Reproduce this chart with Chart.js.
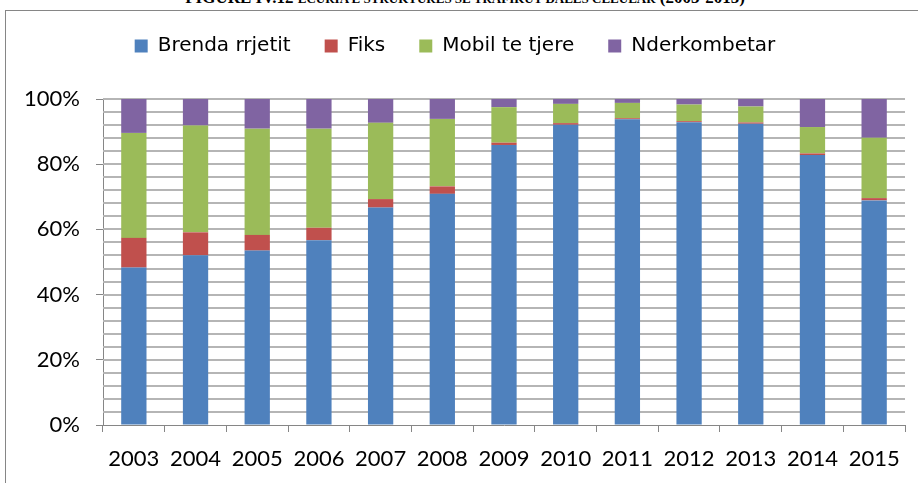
<!DOCTYPE html>
<html>
<head>
<meta charset="utf-8">
<script src="https://cdn.jsdelivr.net/npm/chart.js@4.4.0/dist/chart.umd.min.js"></script>
<style>
  html, body { margin: 0; padding: 0; background: #fff; overflow: hidden; }
  #page { position: relative; width: 918px; height: 483px; }
  #frame { position: absolute; left: 5px; top: 10px; width: 930px; height: 500px; border: 1px solid #868686; }
  #title { position: absolute; left: 0; width: 930px; top: -12px; text-align: center; white-space: nowrap;
           font-family: "Liberation Serif", serif; font-weight: bold; font-size: 17px; color: #000; }
  #title .sm { font-size: 13px; }
  #wrap { position: absolute; left: 0; top: 0; width: 918px; height: 483px; }
</style>
</head>
<body>
<div id="page">
  <div id="frame"></div>
  <div id="title">FIGURE IV.12 <span class="sm">ECURIA E STRUKTURES SE TRAFIKUT DALES CELULAR</span> (2003-2015)</div>
  <div id="wrap"><canvas id="chart" width="918" height="483"></canvas></div>
</div>
<script>
// Years on the x axis
const years = ['2003', '2004', '2005', '2006', '2007', '2008', '2009', '2010', '2011', '2012', '2013', '2014', '2015'];

// Shares of outgoing traffic (%)
const brendaRrjetit = [48.3, 52.1, 53.5, 56.7, 66.7, 70.9, 85.9, 92.1, 93.8, 92.9, 92.4, 82.8, 68.9];
const fiks          = [9.1, 7.0, 4.8, 3.8, 2.6, 2.3, 0.7, 0.5, 0.3, 0.3, 0.4, 0.5, 0.7];
const mobilTeTjere  = [32.2, 32.8, 32.6, 30.4, 23.4, 20.7, 10.9, 5.9, 4.7, 5.1, 4.9, 8.1, 18.5];
const nderkombetar  = [10.4, 8.1, 9.1, 9.1, 7.3, 6.1, 2.5, 1.5, 1.2, 1.7, 2.3, 8.6, 11.9];

// y axis: labels every 20%, gridlines every 4%
const yLabelStep = 20;
const yGridStep = 4;

const tickFont = { family: 'Lato, "Open Sans", sans-serif', size: 22 };
const legendFont = { family: '"DejaVu Sans", sans-serif', size: 20 };

const data = {
    labels: years,
    datasets: [
        { label: 'Brenda rrjetit', data: brendaRrjetit, backgroundColor: '#4F81BD' },
        { label: 'Fiks', data: fiks, backgroundColor: '#C0504D' },
        { label: 'Mobil te tjere', data: mobilTeTjere, backgroundColor: '#9BBB59' },
        { label: 'Nderkombetar', data: nderkombetar, backgroundColor: '#8064A2' }
    ]
};
data.datasets.forEach(ds => {
    ds.categoryPercentage = 1.0;
    ds.barPercentage = 0.41;
    ds.borderWidth = 0;
});

// make the legend box tall enough so the plot starts lower, like the original
const legendHeight = {
    id: 'legendHeight',
    beforeInit(chart) {
        const fit = chart.legend.fit;
        chart.legend.fit = function () {
            fit.call(this);
            this.height = 97;
        };
    }
};

// the dense horizontal gridlines (every 4%) behind the bars
const minorGrid = {
    id: 'minorGrid',
    beforeDatasetsDraw(chart) {
        const { ctx, chartArea } = chart;
        const y = chart.scales.y;
        ctx.save();
        ctx.strokeStyle = '#b5b5b5';
        ctx.lineWidth = 2;
        for (let v = yGridStep; v <= y.max; v += yGridStep) {
            const py = Math.round(y.getPixelForValue(v));
            ctx.beginPath();
            ctx.moveTo(chartArea.left, py);
            ctx.lineTo(chartArea.right, py);
            ctx.stroke();
        }
        ctx.restore();
    }
};

new Chart(document.getElementById('chart'), {
    type: 'bar',
    data: data,
    plugins: [legendHeight, minorGrid],
    options: {
        responsive: false,
        animation: false,
        layout: { padding: { left: 5, right: 13, top: 2, bottom: 9 } },
        plugins: {
            legend: {
                position: 'top',
                labels: {
                    color: '#000',
                    font: legendFont,
                    boxWidth: 13,
                    boxHeight: 13,
                    padding: 34
                }
            },
            tooltip: { enabled: false }
        },
        scales: {
            x: {
                stacked: true,
                grid: { drawOnChartArea: false, drawTicks: true, tickLength: 7, color: '#868686', offset: true },
                border: { color: '#868686', width: 1 },
                ticks: { color: '#000', font: tickFont, padding: 14, maxRotation: 0 },
                afterFit: scale => { scale.height = 483 - 425 - 9; }
            },
            y: {
                stacked: true,
                min: 0,
                max: 100,
                grid: {
                    drawOnChartArea: false,
                    tickLength: 7,
                    tickColor: '#868686',
                    tickWidth: 1
                },
                border: { color: '#868686', width: 1 },
                ticks: {
                    stepSize: yLabelStep,
                    color: '#000',
                    font: tickFont,
                    padding: 16,
                    callback: v => v + '%'
                },
                afterFit: scale => { scale.width = 98; }
            }
        }
    }
});
</script>
</body>
</html>
